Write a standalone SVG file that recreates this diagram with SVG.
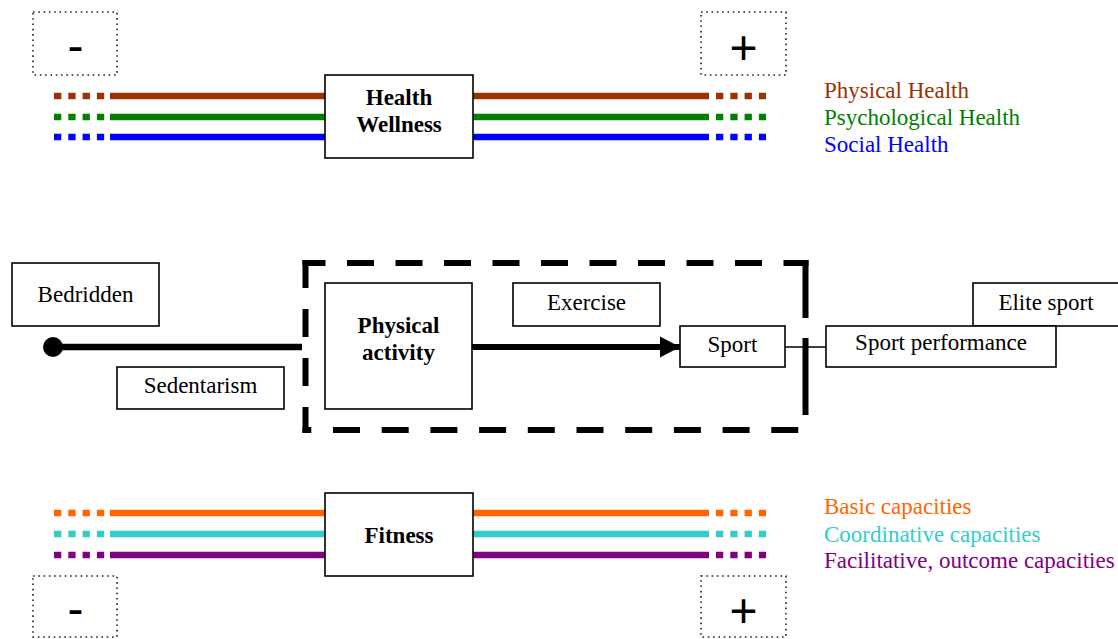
<svg xmlns="http://www.w3.org/2000/svg" width="1118" height="639" viewBox="0 0 1118 639">
  <style>
    .box { fill: #ffffff; stroke: #000000; stroke-width: 1.6; }
    .dotbox { fill: none; stroke: #222222; stroke-width: 1.6; stroke-dasharray: 1.6 3.7; }
    .lbl { font-family: "Liberation Serif", "Times New Roman", serif; font-size: 23px; fill: #000000; }
    .bold { font-weight: bold; }
    .mid { text-anchor: middle; }
    .sign { font-family: "Liberation Sans", Arial, sans-serif; font-size: 48px; fill: #000000; text-anchor: middle; }
    .band { fill: none; stroke-width: 6.5; }
    .dots { fill: none; stroke-width: 6.5; stroke-dasharray: 7.3 7; }
    .frame { fill: none; stroke: #000000; stroke-width: 6; }
  </style>
  <defs>
    <marker id="arrowHead" markerUnits="userSpaceOnUse" markerWidth="22" markerHeight="22" refX="20" refY="11" orient="auto">
      <path d="M0,0.5 L20,11 L0,21.5 Z" fill="#000000"/>
    </marker>
  </defs>

  <!-- Health scale: coloured bands -->
  <g id="health-bands">
    <line class="dots" x1="54" y1="96" x2="110" y2="96" stroke="#993300"/>
    <line class="band" x1="110" y1="96" x2="325" y2="96" stroke="#993300"/>
    <line class="band" x1="473" y1="96" x2="709" y2="96" stroke="#993300"/>
    <line class="dots" x1="716" y1="96" x2="766" y2="96" stroke="#993300"/>

    <line class="dots" x1="54" y1="117" x2="110" y2="117" stroke="#008000"/>
    <line class="band" x1="110" y1="117" x2="325" y2="117" stroke="#008000"/>
    <line class="band" x1="473" y1="117" x2="709" y2="117" stroke="#008000"/>
    <line class="dots" x1="716" y1="117" x2="766" y2="117" stroke="#008000"/>

    <line class="dots" x1="54" y1="137" x2="110" y2="137" stroke="#0000FF"/>
    <line class="band" x1="110" y1="137" x2="325" y2="137" stroke="#0000FF"/>
    <line class="band" x1="473" y1="137" x2="709" y2="137" stroke="#0000FF"/>
    <line class="dots" x1="716" y1="137" x2="766" y2="137" stroke="#0000FF"/>
  </g>

  <g id="health-minus">
    <rect class="dotbox" x="33" y="12" width="84" height="63"/>
    <text class="sign" x="75.5" y="62">-</text>
  </g>
  <g id="health-plus">
    <rect class="dotbox" x="701" y="12" width="85" height="63"/>
    <text class="sign" x="743.5" y="63.5">+</text>
  </g>

  <g id="health-wellness">
    <rect class="box" x="325" y="75" width="148" height="83"/>
    <text class="lbl bold mid" x="399" y="105">Health</text>
    <text class="lbl bold mid" x="399" y="132">Wellness</text>
  </g>

  <g id="health-legend">
    <text class="lbl" x="824" y="98" style="fill:#993300">Physical Health</text>
    <text class="lbl" x="824" y="124.5" style="fill:#008000">Psychological Health</text>
    <text class="lbl" x="824" y="151.5" style="fill:#0000FF">Social Health</text>
  </g>

  <!-- Activity continuum: dashed frame, one side at a time -->
  <g id="activity-frame">
    <line class="frame" x1="302.5" y1="263" x2="808.5" y2="263" stroke-dasharray="27 21.5" stroke-dashoffset="4"/>
    <line class="frame" x1="805.5" y1="260" x2="805.5" y2="433" stroke-dasharray="58 20 77 100"/>
    <line class="frame" x1="302.5" y1="430" x2="808.5" y2="430" stroke-dasharray="27 21.7" stroke-dashoffset="18.2"/>
    <line class="frame" x1="305.5" y1="260" x2="305.5" y2="433" stroke-dasharray="28 21"/>
  </g>

  <g id="connectors">
    <circle cx="53" cy="347" r="10" fill="#000000"/>
    <line x1="53" y1="347" x2="302" y2="347" stroke="#000000" stroke-width="6.5"/>
    <line x1="472" y1="347" x2="680" y2="347" stroke="#000000" stroke-width="6" marker-end="url(#arrowHead)"/>
    <line x1="785" y1="347" x2="826" y2="347" stroke="#000000" stroke-width="1.6"/>
  </g>

  <g id="bedridden">
    <rect class="box" x="12" y="263" width="147" height="63"/>
    <text class="lbl mid" x="85.5" y="302">Bedridden</text>
  </g>
  <g id="sedentarism">
    <rect class="box" x="117" y="367" width="167" height="42"/>
    <text class="lbl mid" x="200.5" y="393">Sedentarism</text>
  </g>
  <g id="physical-activity">
    <rect class="box" x="325" y="283" width="147" height="126"/>
    <text class="lbl bold mid" x="398.5" y="333">Physical</text>
    <text class="lbl bold mid" x="398.5" y="360">activity</text>
  </g>
  <g id="exercise">
    <rect class="box" x="513" y="283" width="147" height="43"/>
    <text class="lbl mid" x="586.5" y="310">Exercise</text>
  </g>
  <g id="sport">
    <rect class="box" x="680" y="326" width="105" height="41"/>
    <text class="lbl mid" x="732.5" y="352">Sport</text>
  </g>
  <g id="elite-sport">
    <rect class="box" x="973" y="283" width="155" height="43"/>
    <text class="lbl mid" x="1046" y="310">Elite sport</text>
  </g>
  <g id="sport-performance">
    <rect class="box" x="826" y="326" width="230" height="41"/>
    <text class="lbl mid" x="941" y="350">Sport performance</text>
  </g>

  <!-- Fitness scale: coloured bands -->
  <g id="fitness-bands">
    <line class="dots" x1="54" y1="513" x2="110" y2="513" stroke="#FF6600"/>
    <line class="band" x1="110" y1="513" x2="325" y2="513" stroke="#FF6600"/>
    <line class="band" x1="473" y1="513" x2="709" y2="513" stroke="#FF6600"/>
    <line class="dots" x1="716" y1="513" x2="766" y2="513" stroke="#FF6600"/>

    <line class="dots" x1="54" y1="534" x2="110" y2="534" stroke="#33CCCC"/>
    <line class="band" x1="110" y1="534" x2="325" y2="534" stroke="#33CCCC"/>
    <line class="band" x1="473" y1="534" x2="709" y2="534" stroke="#33CCCC"/>
    <line class="dots" x1="716" y1="534" x2="766" y2="534" stroke="#33CCCC"/>

    <line class="dots" x1="54" y1="555" x2="110" y2="555" stroke="#800080"/>
    <line class="band" x1="110" y1="555" x2="325" y2="555" stroke="#800080"/>
    <line class="band" x1="473" y1="555" x2="709" y2="555" stroke="#800080"/>
    <line class="dots" x1="716" y1="555" x2="766" y2="555" stroke="#800080"/>
  </g>

  <g id="fitness">
    <rect class="box" x="325" y="493" width="148" height="83"/>
    <text class="lbl bold mid" x="399" y="543">Fitness</text>
  </g>

  <g id="fitness-minus">
    <rect class="dotbox" x="33" y="576" width="84" height="61"/>
    <text class="sign" x="75.5" y="625">-</text>
  </g>
  <g id="fitness-plus">
    <rect class="dotbox" x="701" y="576" width="85" height="61"/>
    <text class="sign" x="743.5" y="627">+</text>
  </g>

  <g id="fitness-legend">
    <text class="lbl" x="824" y="514" style="fill:#FF6600">Basic capacities</text>
    <text class="lbl" x="824" y="541.5" style="fill:#33CCCC">Coordinative capacities</text>
    <text class="lbl" x="824" y="568" style="fill:#800080">Facilitative, outcome capacities</text>
  </g>
</svg>
